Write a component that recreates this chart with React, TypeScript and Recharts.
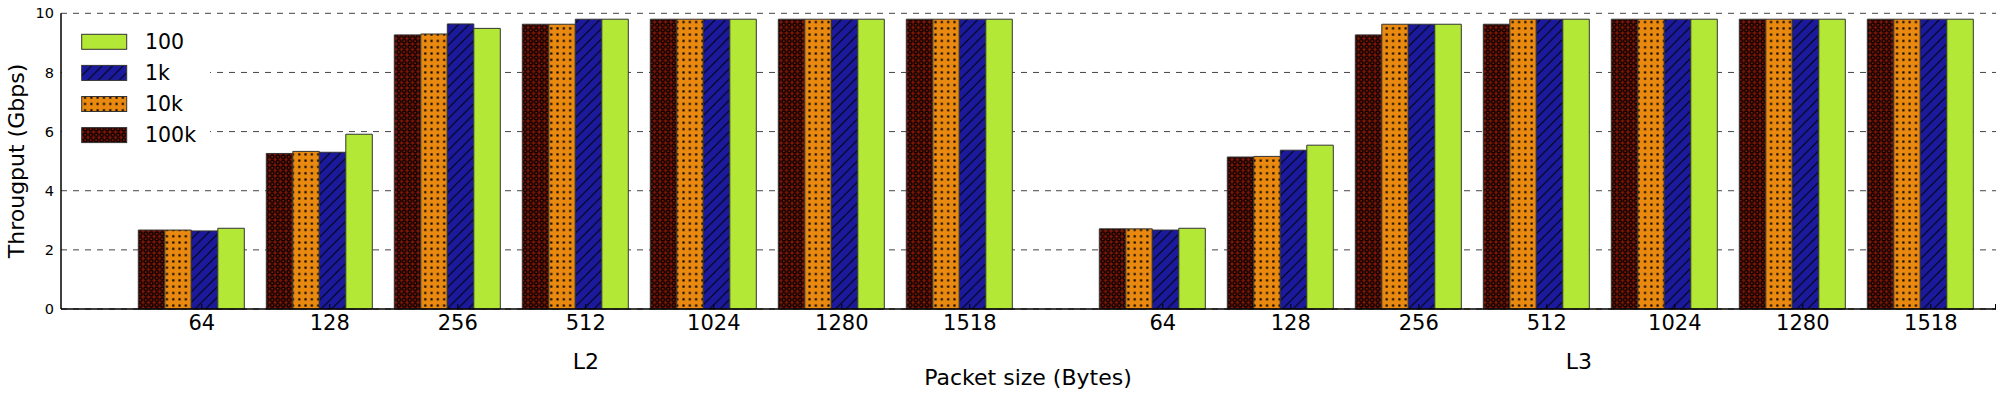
import React from "react";
import { BarChart, Bar, XAxis, YAxis, CartesianGrid } from "recharts";

// packet sizes shared by both panels
const packetSizes = ["64", "128", "256", "512", "1024", "1280", "1518"];

// L2 throughput (Gbps) per series
const l2_100k = [2.67, 5.26, 9.27, 9.63, 9.8, 9.8, 9.8];
const l2_10k = [2.67, 5.33, 9.3, 9.63, 9.8, 9.8, 9.8];
const l2_1k = [2.64, 5.3, 9.64, 9.8, 9.8, 9.8, 9.8];
const l2_100 = [2.73, 5.91, 9.49, 9.8, 9.8, 9.8, 9.8];

// L3 throughput (Gbps) per series
const l3_100k = [2.71, 5.14, 9.27, 9.63, 9.8, 9.8, 9.8];
const l3_10k = [2.71, 5.16, 9.63, 9.8, 9.8, 9.8, 9.8];
const l3_1k = [2.67, 5.37, 9.63, 9.8, 9.8, 9.8, 9.8];
const l3_100 = [2.73, 5.54, 9.63, 9.8, 9.8, 9.8, 9.8];

const yTicks = [0, 2, 4, 6, 8, 10];

const series = [
  { key: "k100k", name: "100k", fill: "url(#pat-o)" },
  { key: "k10k", name: "10k", fill: "url(#pat-dot)" },
  { key: "k1k", name: "1k", fill: "url(#pat-slash)" },
  { key: "k100", name: "100", fill: "#B3E836" },
];

const rowsOf = (a: number[], b: number[], c: number[], d: number[]) =>
  packetSizes.map((size, i) => ({ size, k100k: a[i], k10k: b[i], k1k: c[i], k100: d[i] }));

const l2Rows = rowsOf(l2_100k, l2_10k, l2_1k, l2_100);
const l3Rows = rowsOf(l3_100k, l3_10k, l3_1k, l3_100);

const FONT = "DejaVu Sans";
const AXIS_Y = 309;

const SizeTick = (props: any) => {
  const { x, payload } = props;
  const tx = x + 10.5;
  return (
    <g>
      <line x1={tx} x2={tx} y1={AXIS_Y} y2={AXIS_Y - 5} stroke="#000" strokeWidth={1} />
      <text x={tx} y={330} textAnchor="middle" fontSize={21} fill="#000" fontFamily={FONT}>
        {payload.value}
      </text>
    </g>
  );
};

function Patterns() {
  return (
    <svg width={0} height={0} style={{ position: "absolute" }}>
      <defs>
        <pattern id="pat-o" patternUnits="userSpaceOnUse" width={5.5} height={5.5}>
          <rect width={5.5} height={5.5} fill="#7E1606" />
          <circle cx={2.75} cy={2.75} r={1.8} fill="none" stroke="#000" strokeWidth={1.3} />
        </pattern>
        <pattern id="pat-dot" patternUnits="userSpaceOnUse" width={6.3} height={6.3}>
          <rect width={6.3} height={6.3} fill="#E9890F" />
          <rect x={2.1} y={2.1} width={2.1} height={2.1} fill="#000" />
        </pattern>
        <pattern id="pat-slash" patternUnits="userSpaceOnUse" width={10.5} height={10.5}>
          <rect width={10.5} height={10.5} fill="#1C1A9C" />
          <path d="M-1,1 l2,-2 M0,10.5 l10.5,-10.5 M9.5,11.5 l2,-2" stroke="#000" strokeWidth={1} />
        </pattern>
      </defs>
    </svg>
  );
}

function Panel({ rows, left, width, withY, padL, padR, marginR }: any) {
  return (
    <div style={{ position: "absolute", left, top: 0 }}>
      <BarChart
        width={width}
        height={400}
        data={rows}
        margin={{ top: 13.3, right: marginR, left: 0, bottom: 61 }}
        barGap={0}
        barSize={26.5}
      >
        {withY ? (
          <YAxis
            type="number"
            domain={[0, 10]}
            ticks={yTicks}
            interval={0}
            width={61}
            tickLine={false}
            tickSize={0}
            tickMargin={7}
            axisLine={{ stroke: "#000", strokeWidth: 1.5 }}
            tick={{ fill: "#000", fontSize: 14.5, fontFamily: FONT }}
          />
        ) : (
          <YAxis type="number" hide domain={[0, 10]} ticks={yTicks} interval={0} />
        )}
        {series.map((s) => (
          <Bar
            key={s.key}
            dataKey={s.key}
            name={s.name}
            fill={s.fill}
            stroke="#333"
            strokeWidth={1}
            isAnimationActive={false}
          />
        ))}
        <CartesianGrid horizontal vertical={false} stroke="#444" strokeDasharray="6 6" />
        <XAxis
          dataKey="size"
          height={30}
          padding={{ left: padL, right: padR }}
          tickLine={false}
          interval={0}
          axisLine={{ stroke: "#000", strokeWidth: 1.5 }}
          tick={<SizeTick />}
        />
      </BarChart>
    </div>
  );
}

const legendRows = [...series].reverse();

export default function App() {
  return (
    <div style={{ position: "absolute", left: 0, top: 0, width: 2000, height: 400, background: "#fff", fontFamily: FONT }}>
      <Patterns />
      <Panel rows={l2Rows} left={0} width={1056} withY padL={66.3} padR={32.7} marginR={0} />
      <Panel rows={l3Rows} left={1056} width={944} withY={false} padL={32.3} padR={11.7} marginR={4} />
      <svg width={2000} height={400} style={{ position: "absolute", left: 0, top: 0, pointerEvents: "none" }}>
        <rect x={62} y={20} width={148} height={130} fill="#fff" />
        {legendRows.map((s, i) => (
          <g key={s.key}>
            <rect x={81.7} y={34.3 + i * 31.1} width={45} height={15} fill={s.fill} stroke="#333" strokeWidth={1} />
            <text x={145} y={41.8 + i * 31.1} dy="0.36em" fontSize={20.5} fill="#000" fontFamily={FONT}>
              {s.name}
            </text>
          </g>
        ))}
        <line x1={1995.5} x2={1995.5} y1={AXIS_Y} y2={AXIS_Y - 5} stroke="#000" />
        <text
          transform="translate(16,161) rotate(-90)"
          textAnchor="middle"
          dy="0.36em"
          fontSize={22}
          fill="#000"
          fontFamily={FONT}
        >
          Througput (Gbps)
        </text>
        <text x={586} y={361} dy="0.36em" textAnchor="middle" fontSize={22} fill="#000" fontFamily={FONT}>
          L2
        </text>
        <text x={1579} y={361} dy="0.36em" textAnchor="middle" fontSize={22} fill="#000" fontFamily={FONT}>
          L3
        </text>
        <text x={1028} y={377} dy="0.36em" textAnchor="middle" fontSize={22} fill="#000" fontFamily={FONT}>
          Packet size (Bytes)
        </text>
      </svg>
    </div>
  );
}
